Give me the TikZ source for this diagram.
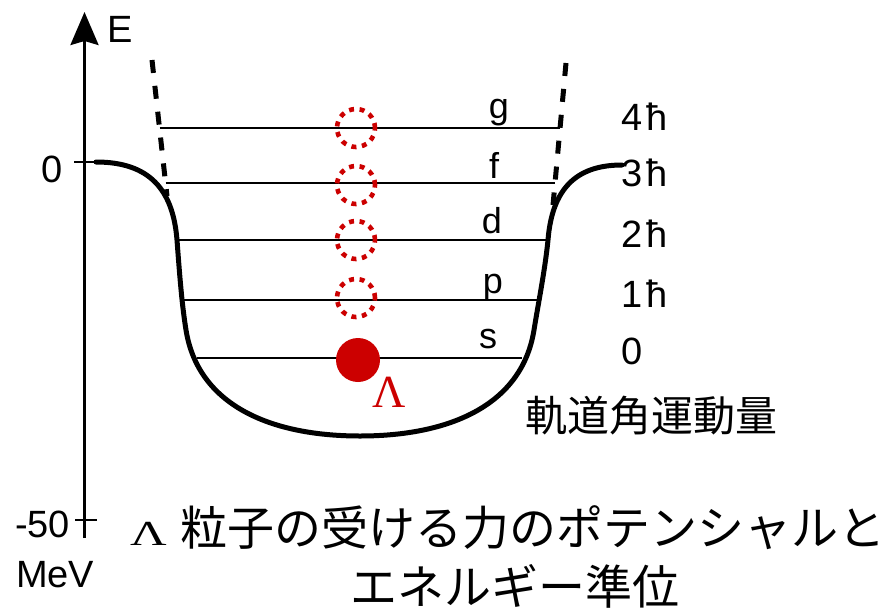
\documentclass[tikz,border=0pt]{standalone}
\usepackage{graphicx}
\usepackage{fontspec}
\setmainfont{Liberation Sans}
\newfontfamily\cjk{Noto Sans CJK JP}
\newfontfamily\serifgr{Liberation Serif}
\usetikzlibrary{arrows.meta}
\definecolor{lred}{RGB}{204,0,0}
\begin{document}
\begin{tikzpicture}[x=1pt,y=-1pt,
  txt/.style={inner sep=0pt, font=\fontsize{38}{40}\selectfont},
  lvl/.style={inner sep=0pt, font=\fontsize{36}{38}\selectfont, anchor=base},
  level/.style={line width=2.6pt},
  wall/.style={line width=5pt, dash pattern=on 13pt off 13pt},
  dcirc/.style={circle, draw=lred, line width=4.6pt, dash pattern=on 5pt off 5.6pt, minimum size=38pt, inner sep=0pt},
  fdot/.style={circle, fill=lred, minimum size=44pt, inner sep=0pt},
  cjktxt/.style={inner sep=0pt, anchor=base west}
]
\useasboundingbox (0,0) rectangle (896,613);
% axis
\coordinate (axbot) at (84.5,538);
\coordinate (axtop) at (84.5,12);
\draw[line width=2.8pt, -{Stealth[length=33pt,width=28pt,inset=4pt]}] (axbot) -- (axtop);
\node[txt, anchor=base west] (E) at (107,42) {E};
\coordinate (t0a) at (74,162); \coordinate (t0b) at (96,162);
\draw[line width=2.8pt] (t0a) -- (t0b);
\coordinate (t50a) at (75,520); \coordinate (t50b) at (97,520);
\draw[line width=2.8pt] (t50a) -- (t50b);
\node[txt, anchor=base east] (zero) at (63,182) {0};
\node[txt, anchor=base west] (m50) at (15,537) {-50};
\node[txt, anchor=base west] (mev) at (16,587) {MeV};
% levels
\draw[level] (159.5,128) -- (560,128);
\draw[level] (165.5,183) -- (555,183);
\draw[level] (177,240) -- (548,240);
\draw[level] (182,300) -- (539,300);
\draw[level] (197,358) -- (522,358);
% dashed walls
\draw[wall] (152,60) -- (167,196);
\draw[wall] (566,63) -- (553,205);
% potential
\draw[line width=5pt, line cap=round, line join=round]
  (96,162) .. controls (150,162) and (173,190) .. (177,240)
  .. controls (180,280) and (182,305) .. (186,330)
  .. controls (198,405) and (270,436) .. (360,436)
  .. controls (450,436) and (522,405) .. (534,330)
  .. controls (538,305) and (545,270) .. (548,240)
  .. controls (552,190) and (575,165) .. (622,165);
% circles
\node[dcirc] (cg) at (356,128) {};
\node[dcirc] (cf) at (356,185) {};
\node[dcirc] (cd) at (356,240) {};
\node[dcirc] (cp) at (356,298) {};
\node[fdot] (lam) at (358,360) {};
\node[inner sep=0pt, anchor=base, text=lred, font=\serifgr\fontsize{46}{48}\selectfont] (laml) at (389,407) {Λ};
% orbital letters
\node[lvl] (lg) at (499,118) {g};
\node[lvl] (lf) at (494,178) {f};
\node[lvl] (ld) at (492,233) {d};
\node[lvl] (lp) at (493,293) {p};
\node[lvl] (ls) at (488,348) {s};
% angular momentum
\node[txt, anchor=base west] (h4) at (621,130) {4\kern4ptħ};
\node[txt, anchor=base west] (h3) at (621,186) {3\kern4ptħ};
\node[txt, anchor=base west] (h2) at (621,247) {2\kern4ptħ};
\node[txt, anchor=base west] (h1) at (621,307) {1\kern4ptħ};
\node[txt, anchor=base west] (h0) at (621,364) {0};
\node[cjktxt, font=\cjk\fontsize{42}{44}\selectfont] (orb) at (525,431) {軌道角運動量};
% title
\node[inner sep=0pt, anchor=base west, font=\serifgr\fontsize{44}{46}\selectfont] (tl) at (130,545) {\scalebox{1.15}[0.8]{Λ}};
\node[cjktxt, font=\cjk\fontsize{47}{49}\selectfont] (t1) at (180,545) {粒子の受ける力のポテンシャルと};
\node[cjktxt, font=\cjk\fontsize{47}{49}\selectfont] (t2) at (350,604) {エネルギー準位};
\end{tikzpicture}
\end{document}
